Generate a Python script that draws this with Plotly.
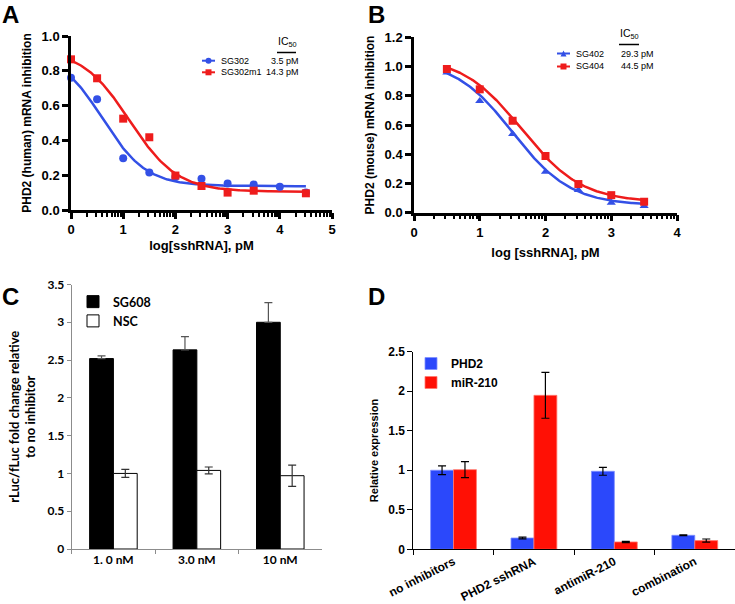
import numpy as np
import plotly.graph_objects as go

# ---------------- data ----------------
# A: PHD2 (human) mRNA inhibition
a_x_sg302 = [0, 0.5, 1, 1.5, 2, 2.5, 3, 3.5, 4, 4.5]
a_sg302 = [0.76, 0.636, 0.297, 0.216, 0.19, 0.18, 0.153, 0.146, 0.134, 0.10]
a_x_sg302m1 = [0, 0.5, 1, 1.5, 2, 2.5, 3, 3.5, 4.5]
a_sg302m1 = [0.866, 0.757, 0.525, 0.418, 0.198, 0.138, 0.10, 0.111, 0.096]
# 4PL fit parameters (bottom, top, logEC50, hill)
a_fit_sg302 = (0.137, 0.917, 0.60, 1.03)
a_fit_sg302m1 = (0.105, 0.925, 1.12, 0.95)
a_ic50 = ['3.5 pM', '14.3 pM']

# B: PHD2 (mouse) mRNA inhibition
b_x = [0.5, 1, 1.5, 2, 2.5, 3, 3.5]
b_sg402 = [0.96, 0.764, 0.538, 0.28, 0.155, 0.068, 0.045]
b_sg404 = [0.983, 0.844, 0.629, 0.388, 0.196, 0.12, 0.075]
b_fit_sg402 = (0.05, 1.05, 1.50, 0.98)
b_fit_sg404 = (0.07, 1.07, 1.64, 0.95)
b_ic50 = ['29.3 pM', '44.5 pM']

# C: rLuc/fLuc fold change
c_cats = ['1. 0 nM', '3.0 nM', '10 nM']
c_sg608 = [2.52, 2.635, 3.0]
c_sg608_err = [0.035, 0.175, 0.26]
c_nsc = [1.0, 1.04, 0.97]
c_nsc_err = [0.053, 0.045, 0.14]

# D: relative expression
d_cats = ['no inhibitors', 'PHD2 sshRNA', 'antimiR-210', 'combination']
d_phd2 = [1.0, 0.143, 0.987, 0.177]
d_phd2_err = [0.055, 0.01, 0.05, 0.005]
d_mir210 = [1.008, 1.948, 0.093, 0.11]
d_mir210_err = [0.1, 0.29, 0.008, 0.02]

W, H = 735, 604
BLUE = '#3350e6'
RED = '#ee1c1c'
ARIAL = 'Liberation Sans, Arial, sans-serif'
CAL = 'Lato, Carlito, sans-serif'


def px(x):
    return x / W


def py(y):
    return 1 - y / H


def four_pl(x, p):
    b, t, c, h = p
    return b + (t - b) / (1 + 10 ** ((x - c) * h))


def log_minor(n):
    return [i + np.log10(k) for i in range(n) for k in range(2, 10)]


fig = go.Figure()

# ---- panel A
xa = np.linspace(0, 4.5, 200)
fig.add_trace(go.Scatter(x=xa, y=four_pl(xa, a_fit_sg302), mode='lines',
                         line=dict(color=BLUE, width=2.5), xaxis='x', yaxis='y', showlegend=False))
fig.add_trace(go.Scatter(x=xa, y=four_pl(xa, a_fit_sg302m1), mode='lines',
                         line=dict(color=RED, width=2.5), xaxis='x', yaxis='y', showlegend=False))
fig.add_trace(go.Scatter(x=a_x_sg302, y=a_sg302, mode='markers', cliponaxis=False,
                         marker=dict(color=BLUE, size=8, symbol='circle'), xaxis='x', yaxis='y', showlegend=False))
fig.add_trace(go.Scatter(x=a_x_sg302m1, y=a_sg302m1, mode='markers', cliponaxis=False,
                         marker=dict(color=RED, size=8, symbol='square'), xaxis='x', yaxis='y', showlegend=False))

# ---- panel B
xb = np.linspace(0.5, 3.5, 200)
fig.add_trace(go.Scatter(x=xb, y=four_pl(xb, b_fit_sg402), mode='lines',
                         line=dict(color=BLUE, width=2.5), xaxis='x2', yaxis='y2', showlegend=False))
fig.add_trace(go.Scatter(x=xb, y=four_pl(xb, b_fit_sg404), mode='lines',
                         line=dict(color=RED, width=2.5), xaxis='x2', yaxis='y2', showlegend=False))
fig.add_trace(go.Scatter(x=b_x, y=b_sg402, mode='markers', cliponaxis=False,
                         marker=dict(color=BLUE, size=8, symbol='triangle-up'), xaxis='x2', yaxis='y2', showlegend=False))
fig.add_trace(go.Scatter(x=b_x, y=b_sg404, mode='markers', cliponaxis=False,
                         marker=dict(color=RED, size=8, symbol='square'), xaxis='x2', yaxis='y2', showlegend=False))

# ---- panel C
fig.add_trace(go.Bar(x=c_cats, y=c_sg608, name='SG608', xaxis='x3', yaxis='y3', legend='legend3',
                     marker=dict(color='black', line=dict(color='black', width=1)),
                     error_y=dict(type='data', array=c_sg608_err, symmetric=False, arrayminus=[0, 0, 0],
                                  color='#555555', thickness=1.2, width=4)))
fig.add_trace(go.Bar(x=c_cats, y=c_nsc, name='NSC', xaxis='x3', yaxis='y3', legend='legend3',
                     marker=dict(color='white', line=dict(color='black', width=1)),
                     error_y=dict(type='data', array=c_nsc_err, color='#333333', thickness=1.2, width=4)))

# ---- panel D
fig.add_trace(go.Bar(x=d_cats, y=d_phd2, name='PHD2', xaxis='x4', yaxis='y4', legend='legend4',
                     marker=dict(color='#2b48fb', line=dict(color='#7f90ff', width=0.8)),
                     error_y=dict(type='data', array=d_phd2_err, color='black', thickness=1.2, width=4)))
fig.add_trace(go.Bar(x=d_cats, y=d_mir210, name='miR-210', xaxis='x4', yaxis='y4', legend='legend4',
                     marker=dict(color='#ff1005', line=dict(color='#ff7a70', width=0.8)),
                     error_y=dict(type='data', array=d_mir210_err, color='black', thickness=1.2, width=4)))

# ---- axes
tick_bold = dict(family=ARIAL, size=13, color='black', weight='bold')
line_ax = dict(showline=True, linecolor='black', linewidth=2.5, ticks='outside', tickcolor='black',
               tickwidth=2.5, ticklen=6, showgrid=False, zeroline=False, tickfont=tick_bold,
               automargin=False)

fig.update_layout(
    xaxis=dict(domain=[px(71), px(332)], anchor='y', range=[0, 5], dtick=1, **line_ax,
               minor=dict(tickmode='array', tickvals=log_minor(5), ticks='outside', ticklen=4,
                          tickwidth=2, tickcolor='black'),
               title=dict(text='log[sshRNA], pM', standoff=5,
                          font=dict(family=ARIAL, size=13, color='black', weight='bold'))),
    yaxis=dict(domain=[py(210), py(36)], anchor='x', range=[0, 1.0], dtick=0.2, tickformat='.1f', **line_ax,
               title=dict(text='PHD2 (human) mRNA inhibition', standoff=8,
                          font=dict(family=ARIAL, size=12, color='black', weight='bold'))),
    xaxis2=dict(domain=[px(414), px(677)], anchor='y2', range=[0, 4], dtick=1, **line_ax,
                minor=dict(tickmode='array', tickvals=log_minor(4), ticks='outside', ticklen=4,
                           tickwidth=2, tickcolor='black'),
                title=dict(text='log [sshRNA], pM', standoff=9,
                           font=dict(family=ARIAL, size=13, color='black', weight='bold'))),
    yaxis2=dict(domain=[py(212.7), py(37.3)], anchor='x2', range=[0, 1.2], dtick=0.2, tickformat='.1f', **line_ax,
                title=dict(text='PHD2 (mouse) mRNA inhibition', standoff=8,
                           font=dict(family=ARIAL, size=12, color='black', weight='bold'))),
    xaxis3=dict(domain=[px(71.7), px(322)], anchor='y3', type='category', showline=True, linecolor='#8c8c8c',
                linewidth=1, ticks='outside', tickson='boundaries', ticklen=4, tickcolor='#8c8c8c',
                showgrid=False, zeroline=False, automargin=False,
                tickfont=dict(family=CAL, size=12, color='black', weight='bold')),
    yaxis3=dict(domain=[py(549), py(284.5)], anchor='x3', range=[0, 3.5], dtick=0.5, showline=True,
                linecolor='#8c8c8c', linewidth=1, ticks='outside', ticklen=4, tickcolor='#8c8c8c',
                showgrid=False, zeroline=False, automargin=False,
                tickfont=dict(family=CAL, size=12, color='black', weight='bold'),
                title=dict(text='rLuc/fLuc fold change relative<br>to no inhibitor', standoff=8,
                           font=dict(family=CAL, size=13, color='black', weight='bold'))),
    xaxis4=dict(domain=[px(413.3), 1.0], anchor='y4', type='category', showline=True, linecolor='black',
                linewidth=1, ticks='outside', tickson='boundaries', ticklen=5, tickcolor='black',
                tickangle=-27, showgrid=False, zeroline=False, automargin=False,
                tickfont=dict(family=ARIAL, size=12, color='black', weight='bold')),
    yaxis4=dict(domain=[py(549.3), py(351.7)], anchor='x4', range=[0, 2.5], dtick=0.5, showline=True,
                linecolor='black', linewidth=1, ticks='outside', ticklen=5, tickcolor='black',
                showgrid=False, zeroline=False, automargin=False,
                tickfont=dict(family=ARIAL, size=12, color='black', weight='bold'),
                title=dict(text='Relative expression', standoff=7,
                           font=dict(family=ARIAL, size=11, color='black', weight='bold'))),
    barmode='group', bargap=0.43, bargroupgap=0,
    legend3=dict(x=px(73), y=py(287), xanchor='left', yanchor='top', bgcolor='rgba(0,0,0,0)',
                 font=dict(family=CAL, size=12.5, color='black', weight='bold')),
    legend4=dict(x=px(411), y=py(349), xanchor='left', yanchor='top', bgcolor='rgba(0,0,0,0)',
                 font=dict(family=ARIAL, size=12, color='black', weight='bold')),
    width=W, height=H, autosize=False,
    margin=dict(l=0, r=0, t=0, b=0, autoexpand=False),
    paper_bgcolor='white', plot_bgcolor='white',
)

# ---- panel letters and hand-made legends for the dose-response panels
ann = []
shapes = []
for letter, lx, ly in [('A', 0, -1), ('B', 366, -1), ('C', 0, 281), ('D', 366, 281)]:
    ann.append(dict(text=letter, x=px(lx), y=py(ly), xref='paper', yref='paper', xanchor='left',
                    yanchor='top', showarrow=False,
                    font=dict(family=ARIAL, size=24, color='black', weight='bold')))

leg_font = dict(family=ARIAL, size=9, color='black')


def legend_row(x0, y, color, symbol, label, ic50, ic_x, ic_anchor):
    shapes.append(dict(type='line', xref='paper', yref='paper', x0=px(x0), x1=px(x0 + 13),
                       y0=py(y), y1=py(y), line=dict(color=color, width=2)))
    cx, r = x0 + 6.5, 3
    if symbol == 'circle':
        shapes.append(dict(type='circle', xref='paper', yref='paper', x0=px(cx - r), x1=px(cx + r),
                           y0=py(y + r), y1=py(y - r), fillcolor=color, line=dict(width=0)))
    elif symbol == 'square':
        shapes.append(dict(type='rect', xref='paper', yref='paper', x0=px(cx - r), x1=px(cx + r),
                           y0=py(y + r), y1=py(y - r), fillcolor=color, line=dict(width=0)))
    else:
        path = 'M{},{} L{},{} L{},{} Z'.format(px(cx - r), py(y + r), px(cx + r), py(y + r), px(cx), py(y - r))
        shapes.append(dict(type='path', xref='paper', yref='paper', path=path, fillcolor=color,
                           line=dict(width=0)))
    ann.append(dict(text=label, x=px(x0 + 17), y=py(y), xref='paper', yref='paper', xanchor='left',
                    yanchor='middle', showarrow=False, font=leg_font))
    ann.append(dict(text=ic50, x=px(ic_x), y=py(y), xref='paper', yref='paper', xanchor=ic_anchor,
                    yanchor='middle', showarrow=False, font=leg_font))


# panel A legend
ann.append(dict(text='IC<sub>50</sub>', x=px(276), y=py(51), xref='paper', yref='paper', xanchor='left',
                yanchor='bottom', showarrow=False, font=dict(family=ARIAL, size=10.5, color='black')))
shapes.append(dict(type='line', xref='paper', yref='paper', x0=px(277), x1=px(296), y0=py(52.5), y1=py(52.5),
                   line=dict(color='black', width=1.5)))
legend_row(202, 60.7, BLUE, 'circle', 'SG302', a_ic50[0], 301, 'right')
legend_row(202, 72.3, RED, 'square', 'SG302m1', a_ic50[1], 301, 'right')

# panel B legend
ann.append(dict(text='IC<sub>50</sub>', x=px(618), y=py(43), xref='paper', yref='paper', xanchor='left',
                yanchor='bottom', showarrow=False, font=dict(family=ARIAL, size=10.5, color='black')))
shapes.append(dict(type='line', xref='paper', yref='paper', x0=px(619), x1=px(639), y0=py(44.5), y1=py(44.5),
                   line=dict(color='black', width=1.5)))
legend_row(557, 53.5, BLUE, 'triangle', 'SG402', b_ic50[0], 619, 'left')
legend_row(557, 66.5, RED, 'square', 'SG404', b_ic50[1], 619, 'left')

fig.update_layout(annotations=ann, shapes=shapes)

fig.write_html("out.html", config={'displayModeBar': False},
               post_script="document.body.style.margin='0px';")
